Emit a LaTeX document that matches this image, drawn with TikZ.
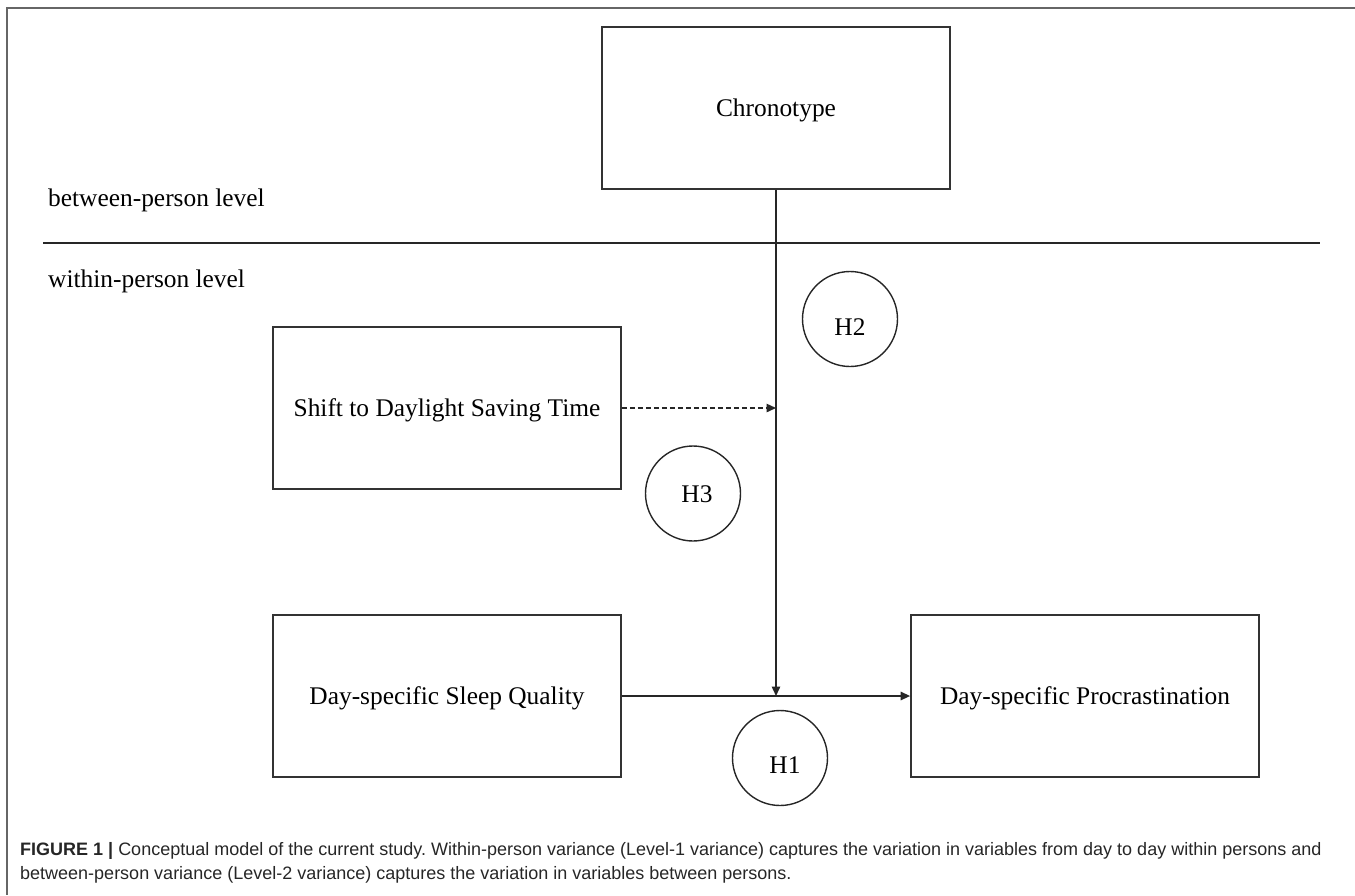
\documentclass[tikz,border=0pt]{standalone}
\usepackage{fontspec}
\setmainfont{Liberation Serif}
\newfontfamily\capfont{Liberation Sans}
\usetikzlibrary{arrows.meta}
\begin{document}
\begin{tikzpicture}[x=1pt,y=-1pt,
  box/.style={draw=black!80, line width=1.8pt, minimum width=348pt, minimum height=162pt, inner sep=0pt,
    font=\fontsize{25.4}{30}\selectfont, text height=16.8pt, text depth=0pt},
  hyp/.style={draw=black!85, line width=1.4pt, circle, minimum size=95pt, inner sep=0pt},
  hyptext/.style={anchor=base, inner sep=0pt, font=\fontsize{25.4}{30}\selectfont},
  lvl/.style={anchor=base west, inner sep=0pt, font=\fontsize{25.4}{30}\selectfont},
  conn/.style={draw=black!85, line width=1.4pt},
  arr/.style={conn, -{Triangle[length=9.5pt,width=8.5pt]}},
  frameline/.style={draw=black!60, line width=2pt},
  captext/.style={anchor=base west, inner sep=0pt, font=\capfont\fontsize{18}{22}\selectfont, text=black!85}]
\useasboundingbox (0,0) rectangle (1355,895);
% frame
\coordinate (ftl) at (7,8);
\coordinate (ftr) at (1355,8);
\coordinate (fbl) at (7,895);
\draw[frameline] (ftr) -- (ftl) -- (fbl);
% level separator
\coordinate (ll) at (43,243);
\coordinate (lr) at (1320,243);
\draw[conn] (ll) -- (lr);
\node[lvl] (between) at (48,206) {between-person level};
\node[lvl] (within) at (48,287) {within-person level};
% boxes
\node[box] (chrono) at (776,108) {Chronotype};
\node[box] (shift) at (447,408) {Shift to Daylight Saving Time};
\node[box] (sleep) at (447,696) {Day-specific Sleep Quality};
\node[box] (proc) at (1085,696) {Day-specific Procrastination};
% connectors
\coordinate (mod) at (776,408);
\coordinate (meet) at (776,696);
\draw[arr] (chrono.south) -- (meet);
\draw[arr, dash pattern=on 5pt off 3pt] (shift.east) -- (mod);
\draw[arr] (sleep.east) -- (proc.west);
% hypotheses
\node[hyp] (h2) at (850,319) {};
\node[hyptext] (h2t) at (850,335) {H2};
\node[hyp] (h3) at (693,493.5) {};
\node[hyptext] (h3t) at (697,502) {H3};
\node[hyp] (h1) at (780,758) {};
\node[hyptext] (h1t) at (785,773) {H1};
% caption
\node[captext] (cap1) at (20,855) {\frenchspacing\textbf{FIGURE 1 |} Conceptual model of the current study. Within-person variance (Level-1 variance) captures the variation in variables from day to day within persons and};
\node[captext] (cap2) at (20,879) {between-person variance (Level-2 variance) captures the variation in variables between persons.};
\end{tikzpicture}
\end{document}
